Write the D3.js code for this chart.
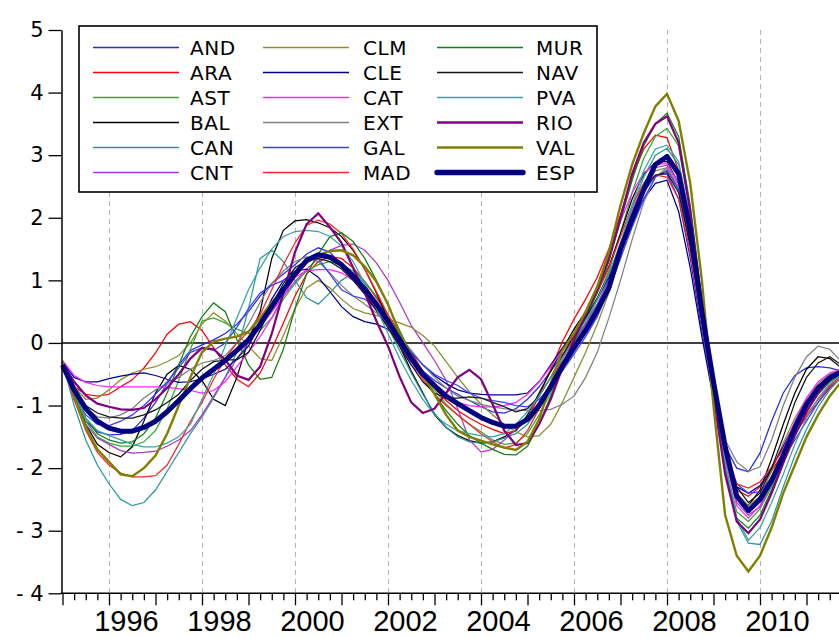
<!DOCTYPE html>
<html>
<head>
<meta charset="utf-8">
<script src="https://cdn.jsdelivr.net/npm/d3@7"></script>
<style>
body { margin: 0; background: #fff; }
svg { display: block; }
</style>
</head>
<body>
<svg width="839" height="637"></svg>
<script>
// quarterly observations, 1995Q1 .. 2011Q4
var AND = [-0.32,-0.90,-1.25,-1.42,-1.47,-1.46,-1.40,-1.20,-0.95,-0.65,-0.35,-0.12,-0.03,0.05,0.15,0.30,
  0.50,0.75,0.95,1.10,1.25,1.42,1.52,1.45,1.25,1.02,0.78,0.52,0.25,0.00,-0.25,-0.45,
  -0.60,-0.72,-0.82,-0.92,-1.02,-1.10,-1.12,-1.05,-0.90,-0.70,-0.45,-0.20,0.05,0.30,0.58,0.95,
  1.45,1.95,2.40,2.68,2.70,2.30,1.35,0.20,-0.85,-1.65,-2.00,-2.06,-1.76,-1.25,-0.80,-0.52,
  -0.40,-0.38,-0.40,-0.45];
var ARA = [-0.30,-0.70,-0.82,-0.85,-0.82,-0.70,-0.59,-0.40,-0.16,0.14,0.30,0.34,0.20,-0.08,-0.35,-0.58,
  -0.70,-0.48,-0.10,0.32,0.75,1.10,1.30,1.38,1.35,1.20,0.98,0.72,0.45,0.15,-0.15,-0.45,
  -0.72,-0.92,-1.08,-1.20,-1.30,-1.38,-1.45,-1.40,-1.20,-0.85,-0.42,0.02,0.38,0.70,1.05,1.50,
  2.05,2.65,3.10,3.32,3.28,2.75,1.65,0.35,-0.80,-1.80,-2.35,-2.45,-2.30,-2.05,-1.75,-1.45,
  -1.18,-0.95,-0.72,-0.55];
var AST = [-0.32,-0.85,-1.25,-1.50,-1.60,-1.65,-1.65,-1.58,-1.40,-1.05,-0.60,-0.10,0.35,0.40,0.32,0.22,
  0.15,0.20,0.40,0.70,0.95,1.15,1.25,1.30,1.25,1.15,0.98,0.75,0.45,0.10,-0.22,-0.50,
  -0.75,-0.98,-1.15,-1.30,-1.42,-1.55,-1.62,-1.60,-1.45,-1.15,-0.80,-0.42,-0.05,0.30,0.70,1.15,
  1.75,2.40,2.95,3.30,3.43,3.15,2.10,0.65,-0.75,-1.95,-2.70,-2.85,-2.65,-2.30,-1.85,-1.42,
  -1.05,-0.78,-0.60,-0.48];
var BAL = [-0.30,-0.85,-1.30,-1.62,-1.75,-1.82,-1.66,-1.25,-0.80,-0.50,-0.36,-0.42,-0.60,-0.90,-1.00,-0.55,
  0.05,0.50,1.35,1.80,1.95,1.97,1.92,1.84,1.70,1.48,1.18,0.80,0.38,-0.05,-0.45,-0.80,
  -1.15,-1.35,-1.48,-1.56,-1.60,-1.58,-1.50,-1.40,-1.15,-0.80,-0.45,-0.10,0.22,0.50,0.82,1.22,
  1.75,2.30,2.70,2.88,2.90,2.55,1.65,0.40,-0.75,-1.80,-2.45,-2.60,-2.35,-1.85,-1.30,-0.80,
  -0.42,-0.22,-0.25,-0.40];
var CAN = [-0.30,-1.00,-1.55,-1.95,-2.25,-2.50,-2.60,-2.55,-2.35,-2.05,-1.75,-1.45,-1.18,-0.88,-0.55,-0.15,
  0.55,1.35,1.48,1.30,1.00,0.72,0.62,0.80,1.00,1.12,0.95,0.62,0.25,-0.12,-0.48,-0.82,
  -1.12,-1.35,-1.50,-1.58,-1.60,-1.58,-1.52,-1.45,-1.30,-1.05,-0.70,-0.35,0.00,0.30,0.62,1.00,
  1.55,2.15,2.65,3.00,3.11,2.85,1.90,0.55,-0.75,-1.95,-2.85,-3.20,-3.22,-2.85,-2.30,-1.80,
  -1.38,-1.02,-0.75,-0.55];
var CNT = [-0.30,-0.90,-1.30,-1.52,-1.62,-1.72,-1.76,-1.75,-1.73,-1.65,-1.55,-1.40,-1.15,-0.85,-0.55,-0.25,
  0.00,0.25,0.50,0.75,0.98,1.18,1.35,1.48,1.56,1.58,1.48,1.28,1.00,0.65,0.28,0.00,
  -0.28,-0.60,-1.05,-1.55,-1.74,-1.70,-1.55,-1.38,-1.18,-0.95,-0.65,-0.30,0.02,0.30,0.62,1.02,
  1.55,2.10,2.55,2.80,2.84,2.55,1.70,0.50,-0.70,-1.80,-2.55,-2.75,-2.62,-2.25,-1.80,-1.35,
  -0.98,-0.70,-0.50,-0.42];
var CLM = [-0.30,-0.70,-0.90,-0.88,-0.75,-0.59,-0.48,-0.42,-0.38,-0.30,-0.20,0.00,0.30,0.48,0.35,0.15,
  -0.05,-0.25,-0.28,0.12,0.55,0.88,1.00,0.88,0.70,0.55,0.48,0.44,0.38,0.32,0.25,0.12,
  -0.05,-0.30,-0.55,-0.78,-0.98,-1.15,-1.30,-1.42,-1.50,-1.48,-1.30,-0.95,-0.55,-0.15,0.30,0.80,
  1.40,2.00,2.50,2.75,2.80,2.45,1.55,0.40,-0.75,-1.75,-2.40,-2.60,-2.45,-2.05,-1.60,-1.20,
  -0.88,-0.65,-0.50,-0.44];
var CLE = [-0.30,-0.55,-0.62,-0.62,-0.57,-0.53,-0.50,-0.48,-0.52,-0.58,-0.63,-0.62,-0.57,-0.50,-0.42,-0.25,
  -0.05,0.30,0.70,1.00,1.15,1.18,1.05,0.82,0.58,0.42,0.34,0.30,0.22,0.05,-0.15,-0.35,
  -0.52,-0.65,-0.75,-0.80,-0.82,-0.83,-0.83,-0.83,-0.80,-0.62,-0.35,-0.08,0.15,0.40,0.70,1.05,
  1.45,1.90,2.30,2.55,2.60,2.10,1.20,0.10,-0.90,-1.80,-2.30,-2.40,-2.28,-2.00,-1.65,-1.28,
  -0.95,-0.70,-0.52,-0.45];
var CAT = [-0.28,-0.52,-0.63,-0.68,-0.70,-0.70,-0.70,-0.70,-0.70,-0.71,-0.73,-0.76,-0.80,-0.76,-0.62,-0.38,
  -0.15,0.10,0.40,0.75,1.05,1.15,1.17,1.17,1.12,1.00,0.80,0.55,0.25,-0.05,-0.35,-0.55,
  -0.70,-0.85,-0.95,-1.00,-1.02,-1.02,-1.00,-0.95,-0.82,-0.62,-0.38,-0.12,0.15,0.48,0.88,1.40,
  1.95,2.40,2.72,2.85,2.87,2.55,1.70,0.45,-0.75,-1.85,-2.60,-2.80,-2.60,-2.20,-1.70,-1.25,
  -0.88,-0.62,-0.48,-0.42];
var EXT = [-0.30,-0.80,-1.05,-1.18,-1.20,-1.15,-1.05,-0.88,-0.75,-0.65,-0.55,-0.42,-0.32,-0.28,-0.20,0.00,
  0.30,0.65,0.95,1.15,1.30,1.38,1.30,1.12,0.92,0.75,0.62,0.48,0.30,0.10,-0.12,-0.35,
  -0.55,-0.72,-0.85,-0.92,-0.98,-1.02,-1.05,-1.07,-1.08,-1.08,-1.06,-0.98,-0.85,-0.55,-0.15,0.40,
  1.00,1.65,2.25,2.65,2.80,2.50,1.55,0.30,-0.85,-1.55,-1.90,-2.05,-1.98,-1.55,-1.00,-0.55,
  -0.22,-0.05,-0.10,-0.30];
var GAL = [-0.30,-0.85,-1.15,-1.30,-1.32,-1.25,-1.15,-1.00,-0.82,-0.62,-0.40,-0.15,-0.08,-0.12,0.00,0.25,
  0.55,0.80,0.92,1.00,1.10,1.30,1.35,1.10,0.85,0.75,0.70,0.55,0.35,0.10,-0.15,-0.35,
  -0.50,-0.60,-0.68,-0.80,-0.88,-0.92,-0.95,-1.00,-1.02,-0.90,-0.70,-0.45,-0.18,0.10,0.42,0.85,
  1.35,1.85,2.30,2.65,2.76,2.45,1.55,0.35,-0.80,-1.75,-2.25,-2.40,-2.38,-2.15,-1.85,-1.55,
  -1.25,-0.95,-0.70,-0.50];
var MAD = [-0.30,-0.90,-1.40,-1.75,-1.95,-2.08,-2.14,-2.14,-2.12,-1.95,-1.62,-1.25,-0.95,-0.58,-0.25,0.00,
  0.18,0.45,0.85,1.25,1.60,1.88,1.96,1.90,1.75,1.50,1.18,0.82,0.45,0.08,-0.28,-0.58,
  -0.82,-1.00,-1.15,-1.30,-1.45,-1.58,-1.68,-1.62,-1.40,-1.05,-0.65,-0.25,0.10,0.45,0.80,1.20,
  1.70,2.20,2.55,2.68,2.65,2.30,1.45,0.30,-0.75,-1.70,-2.25,-2.32,-2.22,-1.98,-1.70,-1.42,
  -1.15,-0.90,-0.68,-0.52];
var MUR = [-0.30,-0.80,-1.20,-1.45,-1.55,-1.60,-1.58,-1.45,-1.20,-0.80,-0.35,0.10,0.42,0.64,0.50,0.05,
  -0.35,-0.58,-0.55,-0.10,0.55,1.10,1.42,1.70,1.76,1.62,1.35,1.00,0.60,0.20,-0.18,-0.50,
  -0.82,-1.08,-1.30,-1.48,-1.60,-1.70,-1.78,-1.79,-1.65,-1.30,-0.85,-0.40,0.00,0.40,0.80,1.30,
  1.95,2.60,3.15,3.50,3.67,3.30,2.20,0.70,-0.80,-2.05,-2.80,-2.96,-2.75,-2.35,-1.90,-1.48,
  -1.10,-0.82,-0.62,-0.50];
var NAV = [-0.30,-0.75,-1.00,-1.12,-1.18,-1.20,-1.20,-1.15,-1.07,-0.95,-0.82,-0.60,-0.42,-0.30,-0.27,-0.27,
  -0.15,0.20,0.60,0.95,1.20,1.32,1.35,1.30,1.18,1.00,0.78,0.52,0.25,-0.05,-0.35,-0.62,
  -0.80,-0.88,-0.88,-0.86,-0.88,-0.95,-1.02,-1.10,-1.05,-0.85,-0.55,-0.20,0.12,0.40,0.72,1.10,
  1.55,2.05,2.45,2.68,2.72,2.40,1.55,0.40,-0.70,-1.65,-2.30,-2.55,-2.40,-2.00,-1.50,-0.95,
  -0.55,-0.32,-0.22,-0.35];
var PVA = [-0.28,-0.80,-1.20,-1.40,-1.48,-1.55,-1.62,-1.66,-1.66,-1.60,-1.50,-1.30,-0.90,-0.50,-0.05,0.40,
  0.85,1.20,1.50,1.70,1.78,1.80,1.78,1.70,1.55,1.30,0.95,0.55,0.15,-0.25,-0.60,-0.90,
  -1.15,-1.30,-1.40,-1.45,-1.48,-1.50,-1.45,-1.30,-1.10,-0.85,-0.55,-0.25,0.05,0.35,0.70,1.10,
  1.60,2.20,2.75,3.10,3.16,2.90,2.00,0.65,-0.70,-1.90,-2.80,-3.15,-2.95,-2.55,-2.10,-1.62,
  -1.20,-0.88,-0.65,-0.50];
var RIO = [-0.32,-0.62,-0.84,-0.97,-1.02,-1.06,-1.07,-1.04,-0.90,-0.72,-0.50,-0.25,-0.08,-0.10,-0.27,-0.52,
  -0.59,-0.38,0.15,0.80,1.45,1.90,2.07,1.85,1.60,1.20,0.80,0.35,-0.05,-0.54,-0.95,-1.12,
  -1.05,-0.80,-0.55,-0.43,-0.58,-0.98,-1.40,-1.63,-1.60,-1.30,-0.90,-0.40,0.05,0.45,0.85,1.35,
  2.00,2.70,3.20,3.50,3.62,3.20,2.10,0.60,-0.85,-2.10,-2.85,-3.04,-2.82,-2.40,-1.92,-1.48,
  -1.10,-0.80,-0.58,-0.45];
var VAL = [-0.30,-0.85,-1.35,-1.70,-1.90,-2.10,-2.13,-2.00,-1.80,-1.45,-1.00,-0.55,-0.15,0.02,0.07,0.10,
  0.18,0.40,0.65,0.85,1.08,1.28,1.40,1.47,1.48,1.40,1.22,0.98,0.62,0.15,-0.20,-0.50,
  -0.82,-1.15,-1.40,-1.50,-1.56,-1.62,-1.67,-1.71,-1.58,-1.22,-0.65,-0.12,0.15,0.50,0.90,1.45,
  2.20,2.85,3.35,3.78,3.98,3.55,2.55,1.00,-1.00,-2.75,-3.40,-3.65,-3.40,-2.95,-2.40,-1.95,
  -1.50,-1.15,-0.85,-0.62];
var ESP = [-0.35,-0.75,-1.05,-1.25,-1.36,-1.41,-1.41,-1.35,-1.25,-1.10,-0.92,-0.73,-0.56,-0.42,-0.28,-0.12,
  0.05,0.30,0.58,0.85,1.10,1.32,1.41,1.37,1.25,1.07,0.86,0.62,0.35,0.05,-0.25,-0.50,
  -0.68,-0.85,-0.97,-1.08,-1.19,-1.27,-1.33,-1.33,-1.22,-1.00,-0.70,-0.37,-0.08,0.20,0.52,0.88,
  1.50,1.98,2.45,2.85,2.98,2.70,1.80,0.50,-0.62,-1.65,-2.45,-2.68,-2.50,-2.20,-1.80,-1.35,
  -0.98,-0.72,-0.56,-0.46];

var regionNames = ['AND','ARA','AST','BAL','CAN','CNT','CLM','CLE','CAT','EXT','GAL','MAD','MUR','NAV','PVA','RIO','VAL','ESP'];
var yTicks = [-4,-3,-2,-1,0,1,2,3,4,5];
var yearLabels = [1996,1998,2000,2002,2004,2006,2008,2010];
var firstYear = 1995;

var colors = {AND:'#2a2ae6', ARA:'#ff0000', AST:'#33aa33', BAL:'#000000', CAN:'#269999', CNT:'#a83ac8',
  CLM:'#8c8c30', CLE:'#000090', CAT:'#ff22ff', EXT:'#7f7f7f', GAL:'#3d3dff', MAD:'#ff2424',
  MUR:'#118011', NAV:'#141414', PVA:'#3aa3a3', RIO:'#800080', VAL:'#808000', ESP:'#000080'};
var widths = {RIO:2.2, VAL:2.4, ESP:5};
var dataByName = {AND:AND, ARA:ARA, AST:AST, BAL:BAL, CAN:CAN, CNT:CNT, CLM:CLM, CLE:CLE, CAT:CAT,
  EXT:EXT, GAL:GAL, MAD:MAD, MUR:MUR, NAV:NAV, PVA:PVA, RIO:RIO, VAL:VAL, ESP:ESP};

var series = regionNames.map(function(n) {
  return {name: n, values: dataByName[n], color: colors[n], width: widths[n] || 1.25};
});

var chartW = 839;
var plotLeft = 61.5, plotBottom = 593.3, plotTop = 30;
var svg = d3.select('svg');

var x = d3.scaleLinear().domain([0, 67]).range([62.5, 62.5 + 67 * 11.625]);
var y = d3.scaleLinear().domain([-4, 5]).range([plotBottom, plotTop]);

// dashed verticals every two years
svg.append('g').selectAll('line')
  .data(yearLabels)
  .join('line')
    .attr('x1', function(d) { return Math.round(x((d - firstYear) * 4)) + 0.5; })
    .attr('x2', function(d) { return Math.round(x((d - firstYear) * 4)) + 0.5; })
    .attr('y1', plotTop)
    .attr('y2', plotBottom)
    .attr('stroke', '#b5b5b5')
    .attr('stroke-width', 1)
    .attr('stroke-dasharray', '5,4');

// zero line
svg.append('line')
  .attr('x1', plotLeft).attr('x2', chartW)
  .attr('y1', y(0)).attr('y2', y(0))
  .attr('stroke', 'black').attr('stroke-width', 1.6);

var line = d3.line()
  .x(function(d, i) { return x(i); })
  .y(function(d) { return y(d); });

svg.append('g').selectAll('path')
  .data(series)
  .join('path')
    .attr('d', function(d) { return line(d.values); })
    .attr('fill', 'none')
    .attr('stroke', function(d) { return d.color; })
    .attr('stroke-width', function(d) { return d.width; })
    .attr('stroke-linejoin', function(d) { return d.name == 'ESP' ? 'round' : 'miter'; });

// left axis
var yAxis = svg.append('g')
  .attr('transform', 'translate(' + plotLeft + ',0)')
  .call(d3.axisLeft(y).tickValues(yTicks).tickSize(13).tickSizeOuter(0).tickPadding(5)
    .tickFormat(function(d) { return d < 0 ? '- ' + Math.abs(d) : String(d); }));
yAxis.select('.domain').attr('stroke-width', 1.5);
yAxis.selectAll('.tick line').attr('stroke-width', 1.3);
yAxis.selectAll('text')
  .style('font-family', '"DejaVu Sans", Verdana, sans-serif')
  .style('font-size', '21px')
  .attr('fill', 'black');

// bottom axis, quarterly ticks, longer on each year
var xAxis = svg.append('g')
  .attr('transform', 'translate(0,' + plotBottom + ')')
  .call(d3.axisBottom(x).tickValues(d3.range(0, 67)).tickSize(7).tickSizeOuter(0).tickFormat(''));
xAxis.select('.domain').remove();
xAxis.selectAll('.tick line')
  .attr('y2', function(d) { return d % 4 === 0 ? 12 : 7; })
  .attr('stroke-width', 1.3);
svg.append('line')
  .attr('x1', plotLeft - 0.7).attr('x2', chartW)
  .attr('y1', plotBottom).attr('y2', plotBottom)
  .attr('stroke', 'black').attr('stroke-width', 1.5);

svg.append('g').selectAll('text')
  .data(yearLabels)
  .join('text')
    .attr('x', function(d) { return x((d - firstYear) * 4 + 1.5); })
    .attr('y', 631)
    .attr('text-anchor', 'middle')
    .style('font-family', '"Liberation Sans", Arial, sans-serif')
    .style('font-size', '29px')
    .text(function(d) { return d; });

// legend
var legend = svg.append('g');
legend.append('rect')
  .attr('x', 79).attr('y', 26)
  .attr('width', 518).attr('height', 166)
  .attr('fill', 'white')
  .attr('stroke', 'black')
  .attr('stroke-width', 1.6);

var colLine = [93, 263, 437], colText = [190, 363, 536];
var items = legend.selectAll('g.item')
  .data(series)
  .join('g')
    .attr('class', 'item')
    .attr('transform', function(d, i) {
      return 'translate(0,' + (47.5 + 25 * (i % 6)) + ')';
    });
items.append('line')
  .attr('x1', function(d, i) { return colLine[Math.floor(i / 6)]; })
  .attr('x2', function(d, i) { return colLine[Math.floor(i / 6)] + 86; })
  .attr('stroke', function(d) { return d.color; })
  .attr('stroke-width', function(d) { return d.width + 0.3; })
  .attr('stroke-linecap', function(d) { return d.name == 'ESP' ? 'round' : 'butt'; });
items.append('text')
  .attr('x', function(d, i) { return colText[Math.floor(i / 6)]; })
  .attr('dy', '0.36em')
  .style('font-family', '"DejaVu Sans", Verdana, sans-serif')
  .style('font-size', '20px')
  .style('letter-spacing', '0.6px')
  .text(function(d) { return d.name; });
</script>
</body>
</html>
